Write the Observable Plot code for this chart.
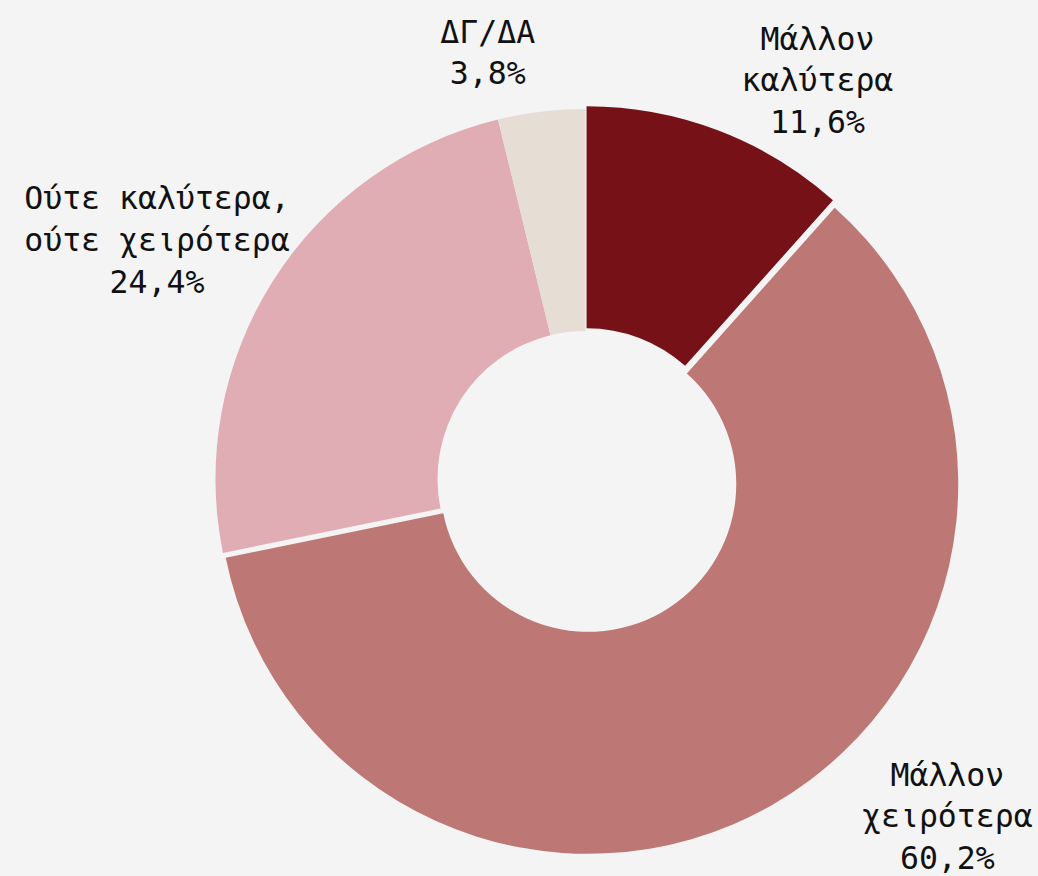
<!DOCTYPE html>
<html>
<head>
<meta charset="utf-8">
<script src="https://cdn.jsdelivr.net/npm/d3@7"></script>
<script src="https://cdn.jsdelivr.net/npm/@observablehq/plot@0.6"></script>
<style>
  html, body { margin: 0; padding: 0; background: #f4f4f4; }
  #chart { width: 1038px; height: 876px; }
</style>
</head>
<body>
<div id="chart"></div>
<script>
// ---- data ----
const categories = ["Μάλλον\nκαλύτερα", "Μάλλον\nχειρότερα", "Ούτε καλύτερα,\nούτε χειρότερα", "ΔΓ/ΔΑ"];
const values = [11.6, 60.2, 24.4, 3.8];

// ---- styles / layout (not data) ----
const colors = ["#751117", "#bd7875", "#e1adb4", "#e6ddd4"];
const pull = [0.008, 0.015, 0, 0];               // slice pull-out, fraction of outer radius
const labelAngle = [29.95, 132.8, 299.4, 347.1]; // degrees clockwise from 12 o'clock
const labelRadius = [1.253, 1.331, 1.331, 1.19]; // fraction of outer radius

const W = 1038, H = 876, CX = 585.5, CY = 479, R = 370, INNER = 0.4;

const fmt = d3.formatLocale({decimal: ",", thousands: ".", grouping: [3], currency: ["", "€"]}).format(".1f");

const rows = categories.map((c, i) => ({
  category: c,
  value: values[i],
  color: colors[i],
  pull: pull[i],
  la: labelAngle[i] * Math.PI / 180,
  lr: labelRadius[i],
  label: c + "\n" + fmt(values[i]) + "%"
}));

function donut(index, scales) {
  const x = scales.x, y = scales.y;
  const ox = x(0), oy = y(0);
  const k = x(1) - x(0);
  const arcs = d3.pie().sort(null).value(d => d.value)(rows);
  const arc = d3.arc().innerRadius(INNER * k).outerRadius(k);
  const g = d3.create("svg:g");
  g.selectAll("path").data(arcs).join("path")
    .attr("d", arc)
    .attr("fill", d => d.data.color)
    .attr("transform", d => {
      const a = (d.startAngle + d.endAngle) / 2;
      const p = d.data.pull * k;
      return `translate(${ox + p * Math.sin(a)},${oy - p * Math.cos(a)})`;
    });
  return g.node();
}

const chart = Plot.plot({
  width: W,
  height: H,
  margin: 0,
  x: {domain: [-CX / R, (W - CX) / R], range: [0, W], axis: null},
  y: {domain: [-(H - CY) / R, CY / R], range: [H, 0], axis: null},
  style: {background: "#f4f4f4", fontFamily: "'DejaVu Sans Mono', monospace"},
  marks: [
    donut,
    Plot.text(rows, {
      x: d => d.lr * Math.sin(d.la),
      y: d => d.lr * Math.cos(d.la),
      text: "label",
      fontSize: 31.5,
      lineHeight: 1.32,
      textAnchor: "middle",
      lineAnchor: "middle",
      fill: "#111111",
      fontFamily: "'DejaVu Sans Mono', monospace"
    })
  ]
});
document.getElementById("chart").appendChild(chart);
</script>
</body>
</html>
